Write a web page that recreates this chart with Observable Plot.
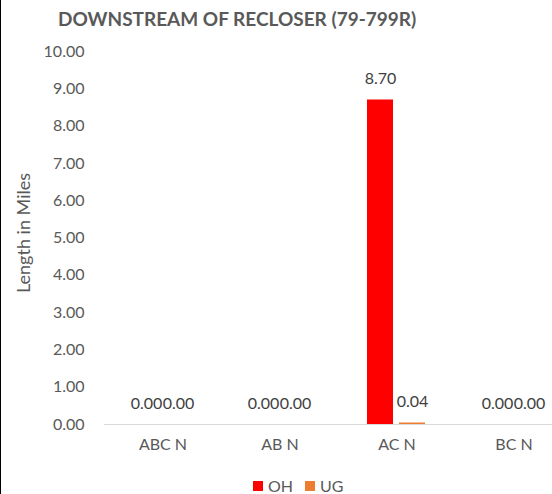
<!DOCTYPE html>
<html>
<head>
<meta charset="utf-8">
<script src="https://cdn.jsdelivr.net/npm/d3@7"></script>
<script src="https://cdn.jsdelivr.net/npm/@observablehq/plot@0.6"></script>
<style>
  html, body { margin: 0; padding: 0; background: #fff; }
  body { width: 552px; height: 494px; overflow: hidden; }
  #wrap { position: relative; width: 551px; height: 494px; border-left: 1px solid #000; font-family: Lato, "Open Sans", sans-serif; }
  #title { position: absolute; left: 57px; top: 7px; font-size: 19px; font-weight: bold; color: #595959; white-space: nowrap; }
  #chart { position: absolute; left: -1px; top: 0; }
  #ylabel { position: absolute; left: 22px; top: 233px; transform: translate(-50%, -50%) rotate(-90deg); font-size: 18px; color: #595959; white-space: nowrap; }
  #legend { position: absolute; left: 252px; top: 476px; display: flex; align-items: center; font-size: 16px; color: #595959; }
  #legend .item { display: flex; align-items: center; margin-right: 12px; }
  #legend .sw { width: 10px; height: 10px; margin-right: 5px; }
</style>
</head>
<body>
<div id="wrap">
  <div id="title">DOWNSTREAM OF RECLOSER (79-799R)</div>
  <div id="chart"></div>
  <div id="ylabel">Length in Miles</div>
  <div id="legend"></div>
</div>
<script>
const categories = ["ABC N", "AB N", "AC N", "BC N"];
const series = ["OH", "UG"];
const ohValues = [0.00, 0.00, 8.70, 0.00];
const ugValues = [0.00, 0.00, 0.04, 0.00];
const seriesColors = ["#FF0000", "#ED7D31"];
const yTicks = [0, 1, 2, 3, 4, 5, 6, 7, 8, 9, 10];

const data = [];
categories.forEach((c, i) => {
  data.push({cat: c, series: "OH", value: ohValues[i]});
  data.push({cat: c, series: "UG", value: ugValues[i]});
});

const chart = Plot.plot({
  width: 552,
  height: 465,
  marginTop: 51,
  marginBottom: 41,
  marginLeft: 103,
  marginRight: -20,
  style: {fontFamily: "Lato, 'Open Sans', sans-serif", fontSize: "16px", color: "#595959", background: "transparent", overflow: "visible"},
  fx: {domain: categories, padding: 0, label: null},
  x: {domain: series, paddingInner: 0.18, paddingOuter: 0.87, axis: null},
  y: {domain: [0, 10], label: null},
  color: {domain: series, range: seriesColors},
  marks: [
    Plot.axisY({ticks: yTicks, tickFormat: d3.format(".2f"), tickSize: 0, tickPadding: 20, label: null, fill: "#595959"}),
    Plot.axisFx({anchor: "bottom", tickSize: 0, tickPadding: 14, label: null, fill: "#595959"}),
    Plot.barY(data, {fx: "cat", x: "series", y: "value", fill: "series"}),
    Plot.ruleY([0], {stroke: "#d9d9d9", strokeWidth: 1}),
    Plot.text(data, {fx: "cat", x: "series", y: "value", text: d => d3.format(".2f")(d.value), dy: -21, lineAnchor: "middle", fill: "#404040", fontSize: 16})
  ]
});
document.getElementById("chart").appendChild(chart);

const legend = document.getElementById("legend");
series.forEach((s, i) => {
  const item = document.createElement("div");
  item.className = "item";
  const sw = document.createElement("div");
  sw.className = "sw";
  sw.style.background = seriesColors[i];
  const lab = document.createElement("span");
  lab.textContent = s;
  item.appendChild(sw);
  item.appendChild(lab);
  legend.appendChild(item);
});
</script>
</body>
</html>
